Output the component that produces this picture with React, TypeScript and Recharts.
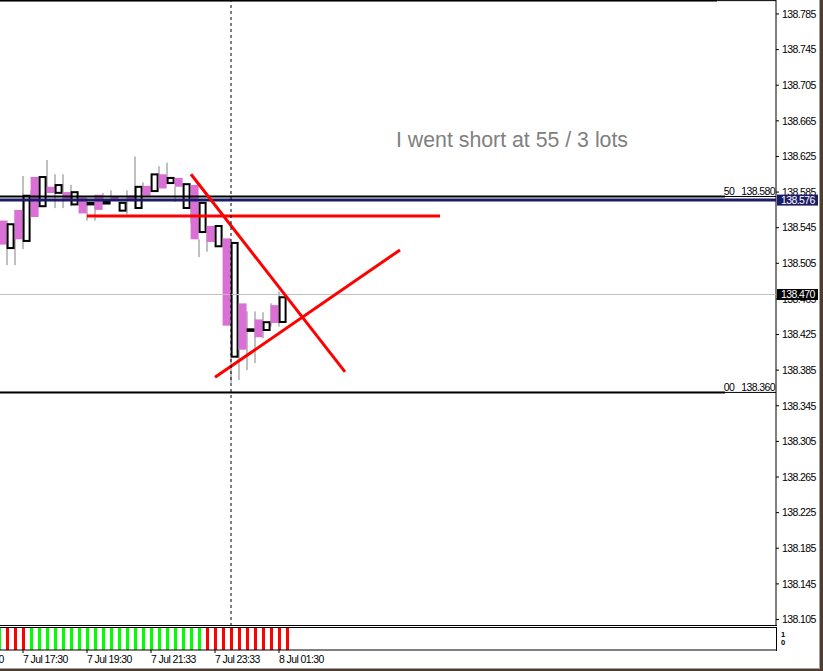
import React from 'react';
import { ComposedChart, Bar, XAxis, YAxis, ReferenceLine, ReferenceDot, Cell } from 'recharts';

const FONT = '"Liberation Sans", Arial, sans-serif';

// ---- candle slots (15-minute bars) ----
const slotIndex = [0, 1, 2, 3, 4, 5, 6, 7, 8, 9, 10, 11, 12, 13, 14, 15, 16, 17, 18, 19, 20, 21, 22, 23, 24, 25, 26, 27, 28, 29, 30, 31, 32, 33, 34, 35];
const bodyKind = ['pink', 'white', 'pink', 'white', 'pink', 'white', 'pink', 'white', 'pink', 'white', 'pink', 'white', 'pink', 'white', 'pink', 'white', 'pink', 'white', 'pink', 'white', 'pink', 'white', 'pink', 'white', 'pink', 'white', 'pink', 'white', 'pink', 'white', 'pink', 'white', 'pink', 'white', 'pink', 'white'];
const bodyHigh = [138.553, 138.550, 138.565, 138.582, 138.602, 138.603, 138.591, 138.594, 138.585, 138.586, 138.579, 138.574, 138.582, 138.575, 138.580, 138.574, 138.581, 138.592, 138.592, 138.606, 138.605, 138.602, 138.601, 138.595, 138.593, 138.574, 138.547, 138.548, 138.533, 138.529, 138.460, 138.432, 138.442, 138.440, 138.458, 138.468];
const bodyLow = [138.526, 138.521, 138.532, 138.529, 138.557, 138.568, 138.584, 138.583, 138.577, 138.570, 138.561, 138.570, 138.565, 138.571, 138.575, 138.563, 138.576, 138.566, 138.581, 138.585, 138.589, 138.594, 138.591, 138.566, 138.532, 138.539, 138.529, 138.523, 138.435, 138.399, 138.408, 138.428, 138.422, 138.429, 138.438, 138.438];
const wickHigh: (number | null)[] = [null, 138.553, 138.565, 138.603, 138.587, null, 138.621, 138.605, 138.605, 138.593, null, 138.578, 138.582, 138.584, 138.587, null, 138.587, 138.625, 138.596, null, 138.614, 138.618, 138.591, null, 138.566, 138.532, 138.539, null, null, 138.399, 138.408, 138.451, 138.451, 138.450, 138.460, 138.473];
const wickLow: (number | null)[] = [null, 138.503, 138.503, 138.521, 138.558, null, 138.584, 138.567, 138.567, 138.569, null, 138.553, 138.553, 138.575, 138.576, null, 138.560, 138.566, 138.585, null, 138.600, 138.598, 138.574, null, 138.550, 138.512, 138.518, null, null, 138.371, 138.374, 138.385, 138.393, 138.421, 138.434, 138.434];

// ---- signal histogram (sub window) ----
const signalSlot = [-1, 0, 1, 2, 3, 4, 5, 6, 7, 8, 9, 10, 11, 12, 13, 14, 15, 16, 17, 18, 19, 20, 21, 22, 23, 24, 25, 26, 27, 28, 29, 30, 31, 32, 33, 34, 35];
const signalState = ['up', 'down', 'down', 'down', 'up', 'up', 'up', 'up', 'up', 'up', 'up', 'up', 'up', 'up', 'up', 'up', 'up', 'up', 'up', 'up', 'up', 'up', 'up', 'up', 'up', 'up', 'down', 'down', 'down', 'down', 'down', 'down', 'down', 'down', 'down', 'down', 'down'];

// ---- axes ----
const priceTicks = [138.105, 138.145, 138.185, 138.225, 138.265, 138.305, 138.345, 138.385, 138.425, 138.465, 138.505, 138.545, 138.585, 138.625, 138.665, 138.705, 138.745, 138.785];
const timeTickValues = [-5.5, 2.5, 10.5, 18.5, 26.5, 34.5];
const timeTickLabels = ['7 Jul 15:30', '7 Jul 17:30', '7 Jul 19:30', '7 Jul 21:33', '7 Jul 23:33', '8 Jul 01:30'];
const signalAxisLabels = ['1', '0'];

// ---- chart objects ----
const fiboLevels = [
  { name: '100', price: 138.800, end: 89.25 },
  { name: '50', price: 138.580, end: 90.25 },
  { name: '00', price: 138.360, end: 90.25 },
];
const hLinePrice = 138.576;
const bidPrice = 138.470;
const redHLine = { x1: 10.5, x2: 54.625, price: 138.558 };
const redLine1 = [{ x: 23.5, y: 138.605 }, { x: 42.75, y: 138.383 }];
const redLine2 = [{ x: 26.5, y: 138.377 }, { x: 49.625, y: 138.520 }];
const vLineSlot = 28.5;
const note = { x: 49.125, price: 138.6356, text: 'I went short at 55 / 3 lots' };

const X_DOMAIN: [number, number] = [-0.375, 96.625];
const Y_DOMAIN: [number, number] = [138.0977, 138.8007];

const candleRows = slotIndex.map((i, n) => ({
  x: i,
  wx: i - 0.5,
  kind: bodyKind[n],
  body: [bodyLow[n], bodyHigh[n]],
  wick: wickHigh[n] == null ? null : [wickLow[n], wickHigh[n]],
}));

const signalRows = signalSlot.map((s, n) => ({ x: s + 0.625, v: 1, state: signalState[n] }));

const BODY_W = 8;

const BodyShape = (props: any) => {
  const { x, y, width, height, payload } = props;
  if (x == null || y == null || isNaN(y)) return <g />;
  const cx = x + width / 2;
  const left = cx - BODY_W / 2;
  const h = Math.max(height, 1);
  if (payload.kind === 'pink') {
    return <rect x={left} y={y} width={BODY_W} height={h} fill="#DA70D6" />;
  }
  return (
    <rect x={left + 1} y={y + 1} width={BODY_W - 2} height={Math.max(h - 2, 0.5)} fill="#ffffff" stroke="#000000" strokeWidth={2} />
  );
};

const WickShape = (props: any) => {
  const { x, y, width, height, payload } = props;
  if (!payload || payload.wick == null || y == null || isNaN(y)) return <g />;
  const cx = x + width / 2;
  return <rect x={cx - 1} y={y} width={2} height={Math.max(height, 1)} fill="#c0c0c0" />;
};

const SignalShape = (props: any) => {
  const { x, y, width, height, fill } = props;
  if (x == null || y == null || isNaN(y)) return <g />;
  const cx = x + width / 2;
  return <rect x={cx - 1.5} y={y} width={3} height={height} fill={fill} />;
};

const PriceTick = (props: any) => {
  const { x, y, payload } = props;
  return (
    <text x={x} y={y} dy="0.36em" textAnchor="start" fontSize={10.5} letterSpacing={-0.6} fontFamily={FONT} fill="#000">
      {Number(payload.value).toFixed(3)}
    </text>
  );
};

const TimeTick = (props: any) => {
  const { x, y, payload } = props;
  const idx = timeTickValues.indexOf(payload.value);
  return (
    <text x={x} y={y} dy={8} textAnchor="start" fontSize={10.5} letterSpacing={-0.6} fontFamily={FONT} fill="#000">
      {idx >= 0 ? timeTickLabels[idx] : ''}
    </text>
  );
};

const fiboLabel = (name: string, price: number) => (props: any) => {
  const vb = props.viewBox || {};
  const xr = (vb.x || 0) + (vb.width || 0) - 1;
  return (
    <text x={xr} y={(vb.y || 0) - 1.5} textAnchor="end" fontSize={10.5} letterSpacing={-0.6} fontFamily={FONT} fill="#000">
      {`${name}\u00A0\u00A0\u00A0${price.toFixed(3)}`}
    </text>
  );
};

const priceBox = (bg: string, price: number) => (props: any) => {
  const vb = props.viewBox || {};
  const xr = (vb.x || 0) + (vb.width || 0);
  const y = vb.y || 0;
  return (
    <g>
      <rect x={xr + 1} y={y - 5.5} width={41} height={11} fill={bg} />
      <text x={xr + 5} y={y} dy="0.36em" textAnchor="start" fontSize={10.5} letterSpacing={-0.6} fontFamily={FONT} fill="#fff">
        {price.toFixed(3)}
      </text>
    </g>
  );
};

const noteLabel = (props: any) => {
  const vb = props.viewBox || {};
  const cx = (vb.x || 0) + (vb.width || 0) / 2;
  const cy = (vb.y || 0) + (vb.height || 0) / 2;
  return (
    <text x={cx} y={cy} textAnchor="start" fontSize={21.3} fontFamily={FONT} fill="#808080">
      {note.text}
    </text>
  );
};

export default function App() {
  return (
    <div style={{ position: 'absolute', left: 0, top: 0, width: 823, height: 671, background: '#fff', overflow: 'hidden', fontFamily: FONT }}>
      {/* main price window */}
      <div style={{ position: 'absolute', left: 0, top: 0 }}>
        <ComposedChart width={823} height={626} data={candleRows} margin={{ top: 0, right: 0, bottom: 0, left: 0 }}>
          <XAxis xAxisId="c" dataKey="x" type="number" domain={X_DOMAIN} hide allowDataOverflow />
          <XAxis xAxisId="w" dataKey="wx" type="number" domain={X_DOMAIN} hide allowDataOverflow />
          <YAxis
            yAxisId="p"
            orientation="right"
            type="number"
            domain={Y_DOMAIN}
            allowDataOverflow
            ticks={priceTicks}
            interval={0}
            width={47}
            tickSize={3}
            tickMargin={3}
            tick={PriceTick}
            axisLine={{ stroke: '#000' }}
            tickLine={{ stroke: '#000' }}
          />
          <Bar xAxisId="w" yAxisId="p" dataKey="wick" barSize={2} shape={WickShape} isAnimationActive={false} />
          <Bar xAxisId="c" yAxisId="p" dataKey="body" barSize={8} shape={BodyShape} isAnimationActive={false} />
        </ComposedChart>
      </div>

      {/* objects overlay */}
      <div style={{ position: 'absolute', left: 0, top: 0 }}>
        <ComposedChart width={823} height={626} data={candleRows} margin={{ top: 0, right: 47, bottom: 0, left: 0 }}>
          <XAxis dataKey="x" type="number" domain={X_DOMAIN} hide allowDataOverflow />
          <YAxis type="number" domain={Y_DOMAIN} hide allowDataOverflow />
          {fiboLevels.map((f) => (
            <ReferenceLine
              key={'fl' + f.name}
              y={f.price}
              stroke="#000"
              strokeWidth={1}
              ifOverflow="visible"
              label={f.name === '100' ? undefined : fiboLabel(f.name, f.price)}
            />
          ))}
          {fiboLevels.map((f) => (
            <ReferenceLine
              key={'ft' + f.name}
              segment={[{ x: X_DOMAIN[0], y: f.price }, { x: f.end, y: f.price }]}
              stroke="#000"
              strokeWidth={2}
              ifOverflow="visible"
            />
          ))}
          <ReferenceLine y={hLinePrice} stroke="#1b1b66" strokeWidth={3} ifOverflow="visible" label={priceBox('#1b1b66', hLinePrice)} />
          <ReferenceLine y={bidPrice} stroke="#c0c0c0" strokeWidth={1} ifOverflow="visible" label={priceBox('#000000', bidPrice)} />
          <ReferenceLine
            segment={[{ x: redHLine.x1, y: redHLine.price }, { x: redHLine.x2, y: redHLine.price }]}
            stroke="#ff0000"
            strokeWidth={3}
            ifOverflow="visible"
          />
          <ReferenceLine segment={redLine1} stroke="#ff0000" strokeWidth={3} ifOverflow="visible" />
          <ReferenceLine segment={redLine2} stroke="#ff0000" strokeWidth={3} ifOverflow="visible" />
          <ReferenceLine x={vLineSlot} stroke="#000" strokeWidth={1} strokeDasharray="3 3" ifOverflow="visible" />
          <ReferenceDot x={note.x} y={note.price} r={1} fill="none" stroke="none" ifOverflow="visible" label={noteLabel} />
        </ComposedChart>
      </div>

      {/* main window bottom border */}
      <div style={{ position: 'absolute', left: 0, top: 625, width: 777, height: 1, background: '#000' }} />

      {/* indicator window */}
      <div style={{ position: 'absolute', left: 0, top: 627 }}>
        <ComposedChart width={823} height={45} data={signalRows} margin={{ top: 1, right: 47, bottom: 0, left: 0 }}>
          <XAxis
            dataKey="x"
            type="number"
            domain={X_DOMAIN}
            allowDataOverflow
            ticks={timeTickValues}
            interval={0}
            height={22}
            tickSize={3}
            tickMargin={2}
            tick={TimeTick}
            axisLine={{ stroke: '#000' }}
            tickLine={{ stroke: '#000' }}
          />
          <YAxis type="number" domain={[0, 1]} hide allowDataOverflow />
          <Bar dataKey="v" barSize={3} shape={SignalShape} isAnimationActive={false}>
            {signalRows.map((r, i) => (
              <Cell key={i} fill={r.state === 'up' ? '#00ff00' : '#ff0000'} />
            ))}
          </Bar>
        </ComposedChart>
      </div>
      <div style={{ position: 'absolute', left: 0, top: 627, width: 777, height: 1, background: '#000' }} />
      <div style={{ position: 'absolute', left: 776, top: 627, width: 1, height: 24, background: '#000' }} />
      <svg style={{ position: 'absolute', left: 776, top: 627 }} width={40} height={24}>
        <text x={5} y={9.5} fontSize={7.5} fontWeight="bold" fontFamily={FONT} fill="#000">{signalAxisLabels[0]}</text>
        <text x={5} y={18} fontSize={7.5} fontWeight="bold" fontFamily={FONT} fill="#000">{signalAxisLabels[1]}</text>
      </svg>

      {/* window frame */}
      <div style={{ position: 'absolute', left: 0, top: 668, width: 820, height: 1, background: '#a0a0a0' }} />
      <div style={{ position: 'absolute', left: 819, top: 0, width: 1, height: 669, background: '#a0a0a0' }} />
      <div style={{ position: 'absolute', left: 820, top: 0, width: 3, height: 671, background: '#4e3d30' }} />
      <div style={{ position: 'absolute', left: 0, top: 669, width: 823, height: 2, background: '#4e3d30' }} />
    </div>
  );
}
